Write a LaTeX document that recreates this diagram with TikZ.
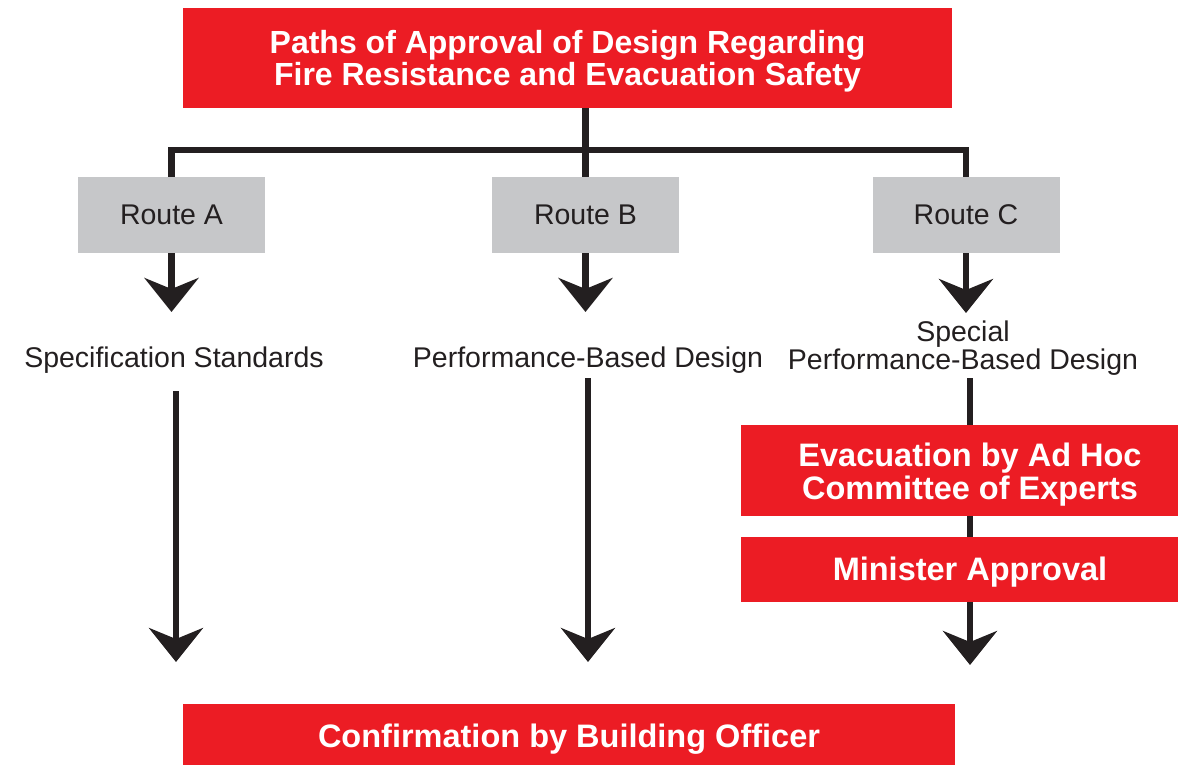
\documentclass[tikz,border=0pt]{standalone}
\usepackage{fontspec}
\setmainfont{Liberation Sans}
\usetikzlibrary{arrows.meta}
\definecolor{rred}{RGB}{236,28,36}
\definecolor{rgray}{RGB}{198,199,201}
\definecolor{ink}{RGB}{35,31,32}
\begin{document}
\begin{tikzpicture}[x=1pt,y=-1pt,
  redbox/.style={fill=rred, text=white, align=center, inner sep=0pt,
    font=\fontsize{32.5}{33}\selectfont\bfseries},
  graybox/.style={fill=rgray, text=ink, inner sep=0pt,
    minimum width=187pt, minimum height=76pt,
    font=\fontsize{28.5}{30}\selectfont},
  lbl/.style={text=ink, align=center, inner sep=0pt,
    font=\fontsize{28.5}{25}\selectfont},
  link/.style={draw=ink, line width=6.5pt},
  arr/.style={draw=ink, line width=6.5pt,
    -{Stealth[length=34pt,width=54pt,inset=11pt]}}]
\useasboundingbox (0,0) rectangle (1178,764);
\clip (0,0) rectangle (1178,764);

% boxes
\node[redbox, minimum width=769pt, minimum height=100pt,
  font=\fontsize{32}{32}\selectfont\bfseries] (title) at (567.5,58)
  {\rule{0pt}{28.7pt}Paths of Approval of Design Regarding\\Fire Resistance and Evacuation Safety};

\node[graybox] (ra) at (171.5,215) {Route A};
\node[graybox] (rb) at (585.5,215) {Route B};
\node[graybox] (rc) at (966,215) {Route C};

\node[lbl, anchor=base] (la) at (174,367) {Specification Standards};
\node[lbl, anchor=base] (lb) at (588,367) {Performance-Based Design};
\node[lbl] (lc) at (963,348.3) {Special\\Performance-Based Design};

\node[redbox, minimum width=458pt, minimum height=91pt] (ev) at (970,470.5)
  {\rule{0pt}{32.6pt}Evacuation by Ad Hoc\\Committee of Experts};
\node[redbox, minimum width=458pt, minimum height=65pt,
  text height=23pt, text depth=2pt] (mi) at (970,569.5) {Minister Approval};
\node[redbox, minimum width=772pt, minimum height=64pt,
  text height=23pt, text depth=1pt] (conf) at (569,736) {Confirmation by Building Officer};

% coordinates
\coordinate (bus) at (585.5,150);
\coordinate (ta) at (171.5,312);
\coordinate (tb) at (585.5,312);
\coordinate (tc) at (966,313);
\coordinate (sa) at (176,391);
\coordinate (ea) at (176,662);
\coordinate (sb) at (588,378);
\coordinate (eb) at (588,662);
\coordinate (sc) at (970,378);
\coordinate (ec) at (970,665);

% connectors
\draw[link] (title.south -| bus) -- (bus);
\draw[link] (ra.north) |- (bus) -| (rc.north);
\draw[link] (bus) -- (rb.north);

\draw[arr] (ra.south) -- (ta);
\draw[arr] (rb.south) -- (tb);
\draw[arr] (rc.south) -- (tc);

\draw[arr] (sa) -- (ea);
\draw[arr] (sb) -- (eb);
\draw[link] (sc) -- (ev.north);
\draw[link] (ev.south) -- (mi.north);
\draw[arr] (mi.south) -- (ec);
\end{tikzpicture}
\end{document}
